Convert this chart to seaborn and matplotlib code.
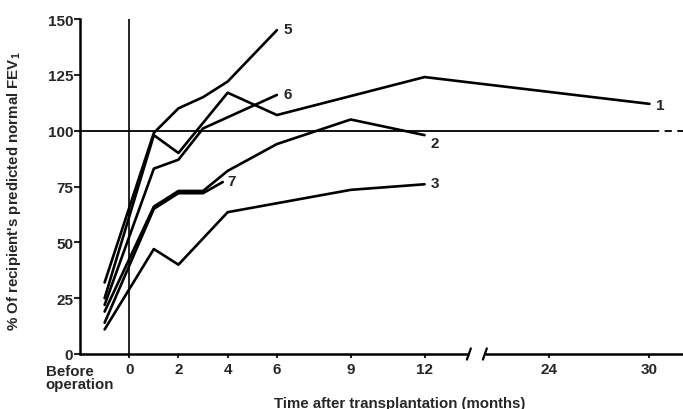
import numpy as np
import pandas as pd
import matplotlib
matplotlib.use("Agg")
import matplotlib.pyplot as plt
import seaborn as sns

# ---- data (months after transplantation; -1 = before operation) ----
p1_months = [-1, 1, 2, 4, 6, 12, 30]
p1_values = [25, 98, 90, 117, 107, 124, 112]
p2_months = [-1, 1, 2, 3, 4, 6, 9, 12]
p2_values = [19, 66, 73, 73, 82, 94, 105, 98]
p3_months = [-1, 1, 2, 4, 9, 12]
p3_values = [11, 47, 40, 63.5, 73.5, 76]
p5_months = [-1, 1, 2, 3, 4, 6]
p5_values = [32, 99, 110, 115, 122, 145]
p6_months = [-1, 1, 2, 3, 6]
p6_values = [22, 83, 87, 101, 116]
p7_months = [-1, 1, 2, 3, 3.8]
p7_values = [14, 65, 72, 72, 77]

patients = ["1", "2", "3", "5", "6", "7"]
x_tick_months = [0, 2, 4, 6, 9, 12, 24, 30]
y_ticks = [0, 25, 50, 75, 100, 125, 150]


def pos(t):
    """Broken time axis: linear to 12 months, compressed after the break."""
    t = np.asarray(t, dtype=float)
    return np.where(t <= 12, t, 17.07 + (t - 24) * 0.678)


series = {
    "1": (p1_months, p1_values),
    "2": (p2_months, p2_values),
    "3": (p3_months, p3_values),
    "5": (p5_months, p5_values),
    "6": (p6_months, p6_values),
    "7": (p7_months, p7_values),
}
frames = []
for k in patients:
    m, v = series[k]
    frames.append(pd.DataFrame({"patient": k, "month": m, "pos": pos(m), "value": v}))
df = pd.concat(frames, ignore_index=True)

sns.set_style("white")
plt.rcParams["font.family"] = ["Liberation Sans", "DejaVu Sans"]

fig = plt.figure(figsize=(6.83, 4.10), dpi=100)
ax = fig.add_axes([80 / 683, 55 / 410, 603 / 683, 335 / 410])

sns.lineplot(data=df, x="pos", y="value", units="patient", estimator=None,
             color="black", linewidth=1.9, ax=ax, legend=False, sort=False)

xmin, xmax = -2.0, 22.5
ax.set_xlim(xmin, xmax)
ax.set_ylim(0, 150)

# reference lines
ax.plot([xmin, float(pos(30)) + 0.1], [100, 100], color="black", lw=1.3, clip_on=False)
ax.plot([float(pos(30)) + 0.1, xmax], [100, 100], color="black", lw=1.3,
        dashes=(4, 3), clip_on=False)
ax.axvline(0, color="black", lw=1.2)

# series labels
label_pos = {"1": (float(pos(30)) + 0.25, 111.5, "left", "center"),
             "2": (12.25, 94.5, "left", "center"),
             "3": (12.25, 76.5, "left", "center"),
             "5": (6.25, 145.5, "left", "center"),
             "6": (6.25, 116.5, "left", "center"),
             "7": (4.0, 77.5, "left", "center")}
for k, (lx, ly, ha, va) in label_pos.items():
    ax.text(lx, ly, k, ha=ha, va=va, fontsize=11, fontweight="bold")

# spines
for s in ["top", "right", "bottom"]:
    ax.spines[s].set_visible(False)
ax.spines["left"].set_linewidth(1.8)
ax.spines["left"].set_color("black")

# broken bottom axis
brk1, brk2 = 13.8, 14.45
ax.plot([xmin, brk1], [0, 0], color="black", lw=1.8, clip_on=False, solid_capstyle="butt")
ax.plot([brk2, xmax], [0, 0], color="black", lw=1.8, clip_on=False, solid_capstyle="butt")
for b in (brk1, brk2):
    ax.plot([b - 0.08, b + 0.08], [-2.5, 2.5], color="black", lw=1.6, clip_on=False)

ax.set_yticks(y_ticks)
ax.set_yticklabels([str(v) for v in y_ticks], fontsize=11, fontweight="bold")
ax.set_xticks(pos(x_tick_months))
ax.set_xticklabels([str(v) for v in x_tick_months], fontsize=11, fontweight="bold")
ax.tick_params(axis="y", direction="out", length=4, width=1.5, pad=1, left=True)
ax.tick_params(axis="x", direction="out", length=3, width=1.5, pad=3, bottom=True)

ax.text(-2.0, -4.6, "Before\noperation", ha="center", va="top", fontsize=10.8,
        fontweight="bold", linespacing=0.85, multialignment="left")

ax.set_xlabel("Time after transplantation (months)", fontsize=10.8,
              fontweight="bold")
ax.xaxis.set_label_coords((400 - 80) / 603, -0.125)
ax.set_ylabel("% Of recipient's predicted normal FEV$_\\mathregular{1}$",
              fontsize=10.8, fontweight="bold")
ax.yaxis.set_label_coords(-0.095, 0.49)

fig.savefig("out.png", dpi=100)
